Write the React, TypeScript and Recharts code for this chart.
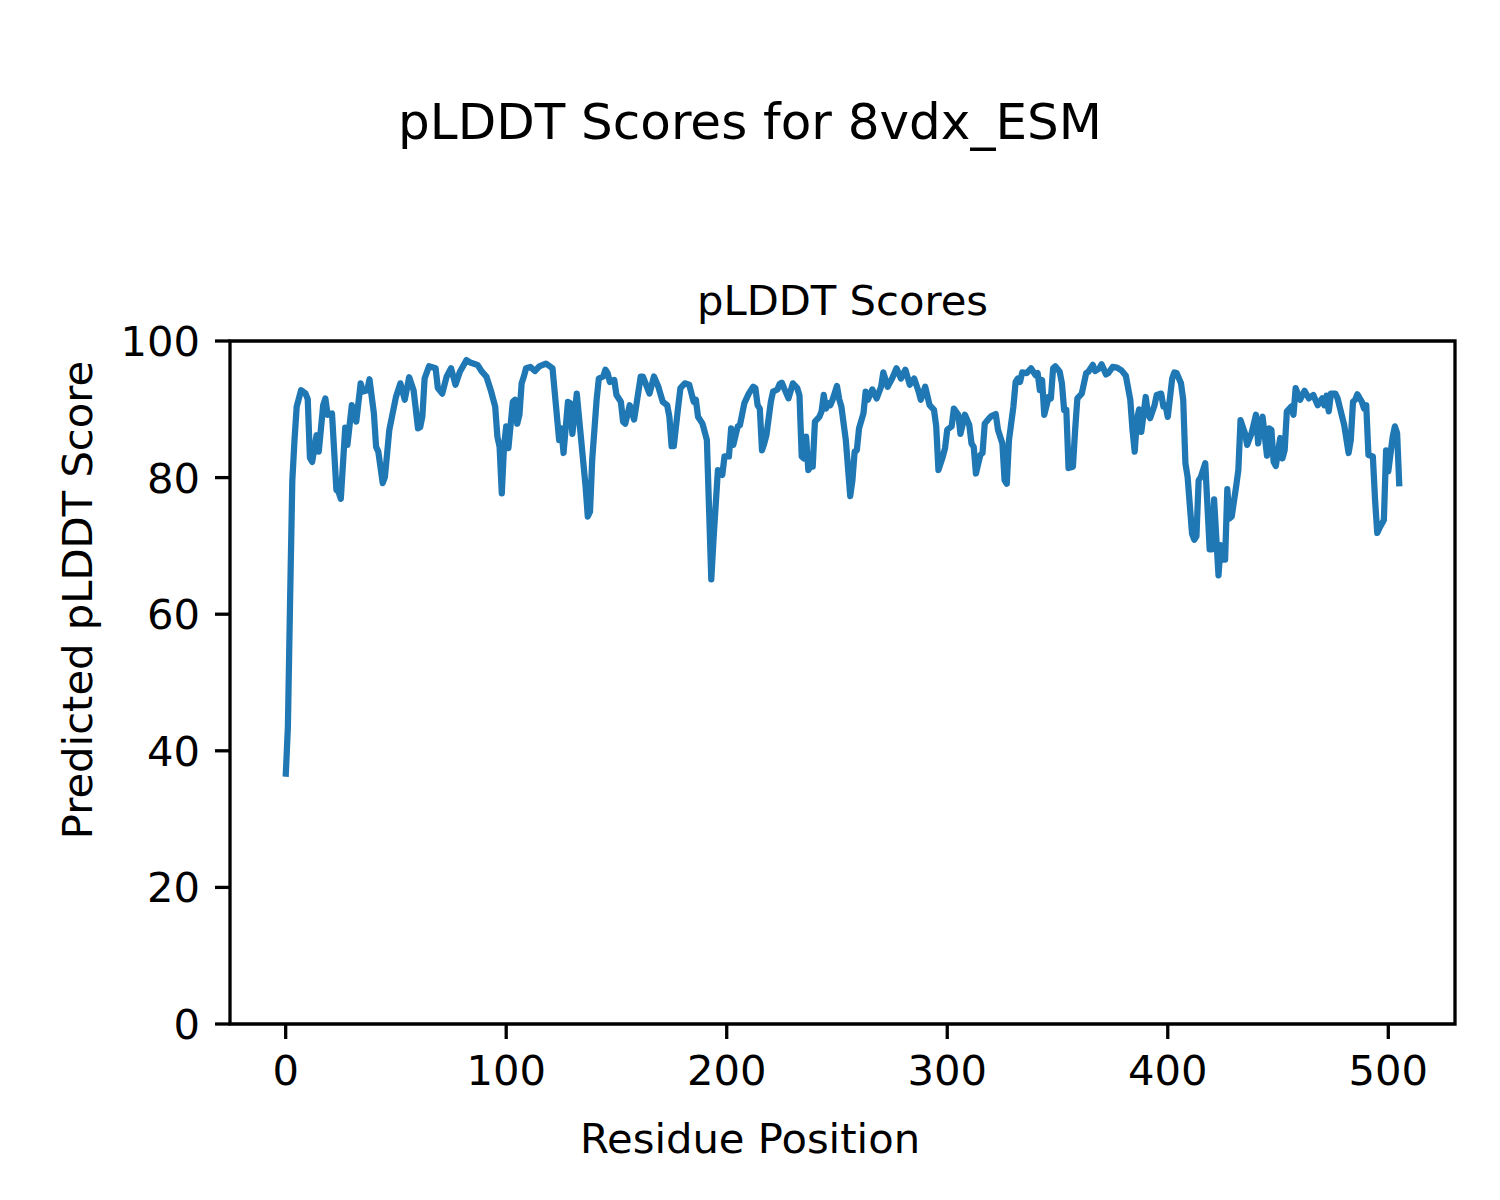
import { Line, LineChart, ReferenceArea, XAxis, YAxis } from 'recharts'

// residue positions (vertices of the trace)
const positions = [
  0, 1, 2, 3, 4, 5, 7, 9, 10, 11, 12, 14, 15, 17, 18, 19, 21, 23, 24, 25, 27, 28, 30, 32, 34, 35, 37, 38, 40, 41,
  42, 44, 45, 47, 50, 52, 54, 56, 58, 60, 61, 62, 63, 65, 68, 69, 71, 73, 75, 77, 79, 82, 84, 87, 89, 91, 93, 95,
  96, 97, 98, 99, 100, 101, 103, 104, 105, 106, 107, 108, 109, 111, 113, 115, 118, 121, 122, 124, 125, 126, 128,
  129, 130, 132, 134, 136, 137, 138, 139, 141, 142, 144, 145, 146, 147, 149, 150, 152, 153, 154, 156, 158, 159,
  161, 162, 165, 167, 169, 171, 173, 174, 175, 176, 178, 179, 181, 183, 185, 186, 187, 189, 191, 193, 194, 196,
  197, 198, 199, 201, 202, 203, 205, 206, 208, 210, 212, 213, 214, 215, 216, 217, 218, 220, 221, 223, 224, 225,
  226, 228, 230, 232, 233, 234, 235, 236, 237, 238, 239, 240, 242, 243, 244, 245, 246, 247, 248, 250, 251, 252,
  254, 256, 257, 258, 259, 260, 262, 263, 264, 266, 268, 270, 271, 273, 275, 277, 279, 281, 283, 285, 287, 288,
  290, 292, 294, 295, 296, 298, 299, 300, 302, 303, 305, 306, 308, 310, 311, 312, 313, 315, 316, 317, 319, 320,
  322, 323, 325, 326, 327, 328, 330, 331, 332, 333, 334, 336, 338, 340, 341, 342, 343, 344, 346, 347, 348, 349,
  351, 352, 353, 354, 355, 357, 358, 359, 361, 363, 364, 366, 367, 369, 370, 372, 373, 375, 377, 379, 381, 383,
  384, 385, 386, 387, 388, 390, 391, 392, 394, 395, 397, 398, 399, 400, 402, 403, 404, 406, 407, 408, 409, 411,
  412, 413, 414, 415, 417, 419, 420, 421, 423, 424, 425, 426, 427, 428, 429, 431, 432, 433, 435, 436, 438, 440,
  441, 442, 443, 445, 446, 447, 448, 449, 451, 452, 453, 454, 456, 457, 458, 460, 462, 464, 466, 468, 470, 471,
  472, 473, 474, 476, 477, 480, 482, 483, 484, 485, 486, 488, 489, 490, 491, 493, 494, 495, 496, 498, 499, 500,
  502, 503, 504, 505,
]

const scores = [
  36.2, 43.5, 62, 79.5, 85.5, 90.4, 92.8, 92.3, 91.5, 82.9, 82.3, 86.2, 83.8, 90.6, 91.6, 89.2, 89.4, 78.2, 77.9,
  76.9, 87.3, 84.8, 90.6, 88.2, 93.8, 92.6, 92.8, 94.4, 89.4, 84.5, 83.8, 79.2, 80.1, 87.0, 91.8, 93.8, 91.4, 94.7,
  92.8, 87.2, 87.4, 89.0, 94.5, 96.3, 96.0, 93.1, 92.3, 94.8, 96.0, 93.6, 95.5, 97.2, 96.8, 96.5, 95.5, 94.8, 92.8,
  90.4, 86.0, 84.5, 77.7, 84.5, 87.5, 84.3, 91.1, 91.4, 87.9, 89.2, 93.8, 94.8, 96.0, 96.2, 95.6, 96.3, 96.7, 96.0,
  92.5, 85.5, 87.2, 83.6, 91.1, 90.9, 86.4, 92.3, 85.5, 78.7, 74.3, 75.0, 82.6, 91.4, 94.5, 94.8, 95.8, 95.3, 94.0,
  94.3, 92.1, 91.1, 88.2, 87.9, 90.6, 88.5, 90.6, 94.8, 94.8, 92.3, 94.8, 93.3, 91.1, 90.6, 88.9, 84.6, 84.6, 90.4,
  93.1, 93.8, 93.6, 91.1, 91.4, 88.9, 87.9, 85.5, 65.1, 70.9, 81.1, 80.9, 80.4, 83.1, 83.1, 87.2, 84.8, 87.5, 87.7,
  90.9, 92.3, 93.3, 93.1, 90.6, 90.1, 84.0, 85.0, 86.2, 91.1, 92.6, 92.9, 93.7, 93.9, 93.1, 91.6, 93.8, 93.1, 92.0,
  83.1, 82.8, 86.0, 81.1, 81.6, 81.6, 88.2, 88.9, 89.7, 92.1, 90.1, 90.9, 90.6, 91.4, 93.4, 91.5, 90.4, 85.5, 77.3,
  79.6, 83.8, 84.0, 87.2, 89.4, 92.6, 91.4, 92.9, 91.6, 93.3, 95.4, 93.3, 94.5, 96.0, 94.5, 95.8, 93.6, 94.5, 92.6,
  91.4, 93.3, 90.6, 89.9, 87.5, 81.1, 83.1, 84.3, 87.0, 87.5, 90.1, 89.2, 86.4, 89.2, 87.7, 85.0, 84.5, 80.6, 83.3,
  83.6, 87.9, 88.7, 89.0, 89.3, 87.0, 85.0, 79.6, 79.1, 85.5, 90.4, 94.0, 94.5, 94.0, 95.4, 95.3, 96.0, 95.0, 95.3,
  92.8, 94.3, 89.2, 91.8, 91.6, 96.0, 96.3, 95.5, 93.8, 89.9, 89.9, 81.4, 81.6, 87.0, 91.6, 92.3, 95.3, 95.5, 96.5,
  95.6, 96.0, 96.6, 95.1, 95.3, 96.2, 96.1, 95.7, 94.9, 91.4, 87.0, 83.8, 88.4, 90.0, 86.7, 91.8, 89.4, 88.7, 90.6,
  92.1, 92.3, 90.4, 90.6, 88.9, 94.5, 95.4, 95.3, 93.8, 91.4, 82.1, 80.1, 71.8, 70.9, 71.4, 79.6, 80.1, 82.1, 69.5,
  69.5, 76.8, 65.7, 70.1, 68.0, 68.0, 78.3, 74.0, 74.3, 78.7, 81.1, 88.4, 86.5, 84.8, 86.5, 89.2, 85.0, 87.8, 88.9,
  83.2, 87.2, 87.0, 82.3, 81.7, 85.8, 82.8, 84.0, 89.7, 90.4, 89.2, 93.1, 91.4, 92.7, 91.6, 92.1, 90.6, 91.6, 90.6,
  92.0, 89.7, 92.3, 92.3, 91.6, 87.7, 83.6, 85.5, 91.1, 91.4, 92.2, 91.1, 90.1, 90.6, 83.3, 83.1, 76.7, 71.9, 72.6,
  73.8, 84.0, 80.9, 86.0, 87.5, 86.5, 78.7,
]

const xTicks = [0, 100, 200, 300, 400, 500]
const yTicks = [0, 20, 40, 60, 80, 100]

const data = positions.map((x, i) => ({ x, score: scores[i] }))

const FONT = '"DejaVu Sans", sans-serif'
const X_DOMAIN: [number, number] = [-25.25, 530.25]

function XTick(props: any) {
  return (
    <text x={props.x} y={1085} textAnchor="middle" fontSize={41.7} fontFamily={FONT} fill="#000">
      {props.payload.value}
    </text>
  )
}

function YTick(props: any) {
  return (
    <text x={200} y={props.y + 15} textAnchor="end" fontSize={41.7} fontFamily={FONT} fill="#000">
      {props.payload.value}
    </text>
  )
}

export default function App() {
  return (
    <div style={{ position: 'absolute', left: 0, top: 0, width: 1500, height: 1200, background: '#fff' }}>
      <LineChart width={1500} height={1200} data={data} margin={{ top: 341, right: 45, bottom: 0, left: 0 }}>
        <XAxis
          dataKey="x"
          type="number"
          domain={X_DOMAIN}
          ticks={xTicks}
          allowDataOverflow
          height={176}
          tickSize={15}
          axisLine={false}
          tickLine={{ stroke: '#000', strokeWidth: 3.3 }}
          tick={<XTick />}
        />
        <YAxis
          type="number"
          domain={[0, 100]}
          ticks={yTicks}
          width={230}
          tickSize={15}
          axisLine={false}
          tickLine={{ stroke: '#000', strokeWidth: 3.3 }}
          tick={<YTick />}
        />
        <Line
          dataKey="score"
          type="linear"
          stroke="#1f77b4"
          strokeWidth={6.25}
          strokeLinejoin="round"
          dot={false}
          activeDot={false}
          isAnimationActive={false}
        />
        <ReferenceArea
          x1={X_DOMAIN[0]}
          x2={X_DOMAIN[1]}
          y1={0}
          y2={100}
          fill="none"
          fillOpacity={0}
          stroke="#000"
          strokeWidth={3.3}
        />
      </LineChart>
      <svg
        width={1500}
        height={1200}
        style={{ position: 'absolute', left: 0, top: 0, pointerEvents: 'none' }}
        fontFamily={FONT}
      >
        <text x={750} y={139} textAnchor="middle" fontSize={50}>
          pLDDT Scores for 8vdx_ESM
        </text>
        <text x={842.5} y={315} textAnchor="middle" fontSize={41.7}>
          pLDDT Scores
        </text>
        <text x={750} y={1153} textAnchor="middle" fontSize={41.7}>
          Residue Position
        </text>
        <text x={92} y={600} textAnchor="middle" fontSize={41.7} transform="rotate(-90 92 600)">
          Predicted pLDDT Score
        </text>
      </svg>
    </div>
  )
}
